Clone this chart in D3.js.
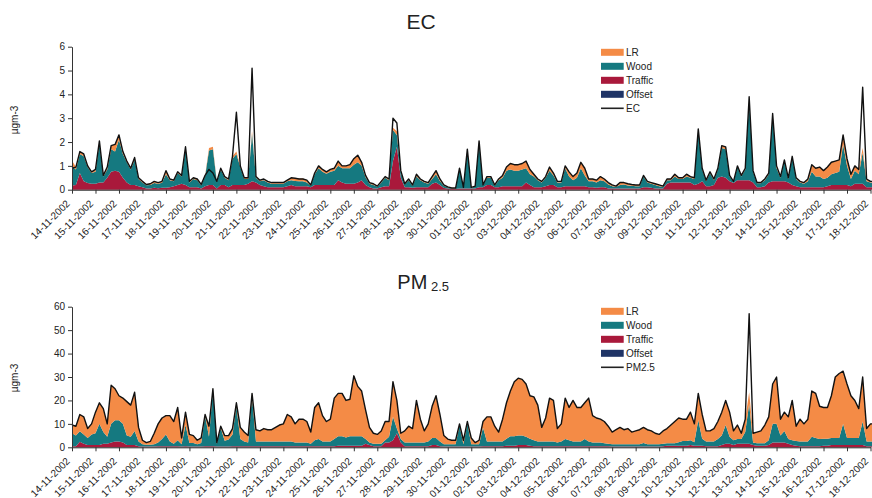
<!DOCTYPE html>
<html><head><meta charset="utf-8">
<script src="https://cdn.jsdelivr.net/npm/d3@7"></script>
<style>
body{margin:0;background:#fff}
svg{display:block;font-family:"Liberation Sans",Arial,sans-serif}
</style>
</head><body>
<svg id="chart" width="872" height="498"></svg>
<script>
// ---- time axis: samples every 4 hours starting 14-11-2002 00:00 ----
const startDay = [2002, 10, 14];
const stepHours = 4;
const tickLabels = ["14-11-2002","15-11-2002","16-11-2002","17-11-2002","18-11-2002","19-11-2002","20-11-2002",
"21-11-2002","22-11-2002","23-11-2002","24-11-2002","25-11-2002","26-11-2002","27-11-2002","28-11-2002",
"29-11-2002","30-11-2002","01-12-2002","02-12-2002","03-12-2002","04-12-2002","05-12-2002","06-12-2002",
"07-12-2002","08-12-2002","09-12-2002","10-12-2002","11-12-2002","12-12-2002","13-12-2002","14-12-2002",
"15-12-2002","16-12-2002","17-12-2002","18-12-2002"];
const seriesNames = ["Offset","Traffic","Wood","LR"];

// ---- EC panel (µgm-3), six values per day ----
const ecMeasured = [
0.9,0.95,1.6,1.5,1.0,0.75, 0.85,2.05,0.6,0.95,1.85,1.9, 2.3,1.6,1.2,0.9,1.35,0.5, 0.35,0.22,0.25,0.35,0.3,0.35,
0.8,0.45,0.4,0.75,0.6,1.8, 0.35,0.5,0.45,0.22,0.6,0.85, 0.7,0.35,0.9,0.55,0.45,1.4, 3.25,1.0,0.5,0.5,5.1,0.55,
0.4,0.45,0.35,0.3,0.3,0.3, 0.3,0.4,0.5,0.48,0.45,0.45, 0.4,0.2,0.7,1.0,0.85,0.75, 0.85,0.9,1.2,1.0,1.0,1.05,
1.3,1.45,1.15,0.6,0.3,0.25, 0.15,0.35,0.55,0.45,3.0,2.8, 0.8,0.25,0.45,0.2,0.65,0.45, 0.35,0.3,0.55,0.8,0.45,0.2,
0.12,0.07,0.07,0.9,0.1,1.7, 0.1,0.15,2.05,0.2,0.55,0.55, 0.2,0.45,0.6,0.95,1.1,1.05, 1.05,1.1,1.2,0.85,0.65,0.45,
0.35,0.55,0.95,0.7,0.35,0.35, 1.0,0.75,0.55,0.7,1.15,0.9, 0.45,0.45,0.4,0.55,0.45,0.3, 0.2,0.15,0.3,0.3,0.25,0.22,
0.2,0.2,0.6,0.35,0.3,0.25, 0.2,0.15,0.45,0.45,0.65,0.5, 0.5,0.65,0.55,0.5,2.55,0.9, 0.4,0.75,0.45,0.9,1.85,1.8,
0.6,0.35,1.0,0.6,0.9,3.9, 0.8,0.3,0.3,0.45,0.7,3.2, 1.0,0.55,1.25,0.5,1.4,0.5, 0.35,0.3,0.45,1.05,0.9,0.95,
0.8,0.95,1.15,1.2,1.25,2.3, 1.3,0.65,1.0,0.85,4.3,0.45, 0.35,0.35];
const ecTraffic = [
0.18,0.2,0.7,0.35,0.28,0.25, 0.25,0.3,0.3,0.5,0.75,0.8, 0.75,0.5,0.3,0.2,0.2,0.15, 0.1,0.05,0.05,0.08,0.06,0.08,
0.08,0.1,0.15,0.2,0.25,0.2, 0.1,0.1,0.1,0.05,0.15,0.2, 0.2,0.05,0.2,0.2,0.1,0.2, 0.2,0.2,0.2,0.25,0.35,0.3,
0.2,0.15,0.1,0.1,0.1,0.1, 0.1,0.15,0.2,0.15,0.15,0.15, 0.15,0.1,0.2,0.2,0.2,0.2, 0.2,0.2,0.4,0.3,0.25,0.25,
0.25,0.3,0.4,0.2,0.1,0.05, 0.05,0.1,0.15,0.15,1.2,1.8, 0.5,0.1,0.1,0.08,0.1,0.1, 0.1,0.1,0.25,0.3,0.2,0.07,
0.05,0.03,0.03,0.05,0.05,0.05, 0.05,0.05,0.1,0.1,0.2,0.2, 0.1,0.1,0.15,0.15,0.15,0.15, 0.15,0.15,0.3,0.2,0.1,0.1,
0.1,0.15,0.2,0.2,0.1,0.1, 0.15,0.15,0.15,0.15,0.15,0.15, 0.1,0.1,0.08,0.1,0.1,0.05, 0.05,0.05,0.05,0.05,0.05,0.05,
0.05,0.05,0.1,0.1,0.08,0.05, 0.05,0.05,0.25,0.3,0.3,0.3, 0.3,0.3,0.3,0.2,0.25,0.35, 0.15,0.15,0.2,0.5,0.55,0.5,
0.35,0.28,0.4,0.4,0.4,0.4, 0.3,0.1,0.1,0.15,0.3,0.35, 0.35,0.35,0.35,0.3,0.2,0.15, 0.1,0.1,0.1,0.1,0.1,0.1,
0.1,0.15,0.2,0.2,0.2,0.2, 0.2,0.15,0.25,0.25,0.25,0.1, 0.1,0.1];
const ecWood = [
0.8,0.65,0.8,1.05,0.67,0.45, 0.5,1.65,0.25,0.35,0.95,0.8, 1.35,1.0,0.85,0.65,1.05,0.3, 0.2,0.14,0.15,0.2,0.19,0.21,
0.57,0.3,0.2,0.5,0.3,1.5, 0.2,0.35,0.3,0.14,0.4,1.45, 1.5,0.27,0.65,0.3,0.3,1.1, 1.3,0.75,0.25,0.2,2.0,0.2,
0.15,0.25,0.2,0.15,0.15,0.15, 0.15,0.2,0.2,0.21,0.2,0.2, 0.15,0.07,0.45,0.7,0.55,0.47, 0.55,0.6,0.6,0.6,0.65,0.65,
0.8,0.85,0.6,0.32,0.15,0.15, 0.07,0.2,0.35,0.25,1.3,0.5, 0.25,0.12,0.3,0.09,0.45,0.3, 0.2,0.15,0.2,0.35,0.17,0.1,
0.05,0.02,0.02,0.83,0.03,1.6, 0.03,0.08,1.9,0.08,0.3,0.3, 0.07,0.3,0.35,0.65,0.7,0.65, 0.65,0.7,0.6,0.45,0.45,0.3,
0.2,0.35,0.6,0.4,0.2,0.2, 0.75,0.4,0.25,0.35,0.75,0.45, 0.25,0.25,0.22,0.3,0.25,0.17, 0.1,0.07,0.15,0.17,0.13,0.12,
0.1,0.1,0.45,0.2,0.17,0.15, 0.1,0.07,0.15,0.1,0.25,0.15, 0.15,0.25,0.2,0.25,2.25,0.5, 0.2,0.55,0.2,0.35,1.2,1.2,
0.2,0.05,0.55,0.15,0.45,3.4, 0.45,0.17,0.17,0.25,0.35,2.75, 0.55,0.15,0.85,0.15,1.15,0.3, 0.2,0.15,0.25,0.65,0.45,0.45,
0.35,0.35,0.45,0.5,0.55,1.7, 0.8,0.3,0.55,0.4,1.3,0.25, 0.2,0.2];
const ecLR = [
0.25,0.1,0.1,0.1,0.05,0.05, 0.1,0.1,0.05,0.1,0.15,0.3, 0.2,0.1,0.05,0.05,0.1,0.05, 0.05,0.03,0.05,0.07,0.05,0.06,
0.15,0.05,0.05,0.05,0.05,0.1, 0.05,0.05,0.05,0.03,0.05,0.1, 0.1,0.03,0.05,0.05,0.05,0.1, 0.1,0.05,0.05,0.05,0.1,0.05,
0.05,0.05,0.05,0.05,0.05,0.05, 0.05,0.05,0.1,0.12,0.12,0.12, 0.1,0.03,0.05,0.1,0.1,0.08, 0.1,0.1,0.2,0.1,0.1,0.15,
0.25,0.3,0.15,0.08,0.05,0.05, 0.03,0.05,0.05,0.05,0.1,0.15, 0.05,0.03,0.05,0.03,0.1,0.05, 0.05,0.05,0.1,0.15,0.08,0.03,
0.02,0.02,0.02,0.02,0.02,0.05, 0.02,0.02,0.05,0.02,0.05,0.05, 0.03,0.05,0.1,0.15,0.25,0.25, 0.25,0.25,0.3,0.2,0.1,0.05,
0.05,0.05,0.15,0.1,0.05,0.05, 0.1,0.2,0.15,0.2,0.25,0.3, 0.1,0.1,0.1,0.15,0.1,0.08, 0.05,0.03,0.1,0.08,0.07,0.05,
0.05,0.05,0.05,0.05,0.05,0.05, 0.05,0.03,0.05,0.05,0.1,0.05, 0.05,0.1,0.05,0.05,0.05,0.05, 0.05,0.05,0.05,0.05,0.1,0.1,
0.05,0.02,0.05,0.05,0.05,0.05, 0.05,0.03,0.03,0.05,0.05,0.1, 0.1,0.05,0.05,0.05,0.05,0.05, 0.05,0.05,0.1,0.3,0.35,0.4,
0.35,0.45,0.5,0.5,0.5,0.4, 0.3,0.2,0.2,0.2,0.2,0.1, 0.05,0.05];
const ecOffsetDaily = [0,0,0,0,0,0,0,0,0,0,0,0,0,0,0,0,0,0,0,0,0,0,0,0,0,0,0,0,0,0,0,0,0,0,0];

// ---- PM2.5 panel (µgm-3), six values per day ----
const pmMeasured = [
9.5,9,14,13,8,10, 15,19,16.5,10,26.5,25, 22,21,19.5,18,23.5,8.5, 3,2,2.5,6,10,12.5,
13.5,13.5,11,17,4,15, 5.5,5,3,4,14,9, 25,2,9,5,5,8, 19,8.5,6.5,5,23,7.5,
7,8,7.5,7.5,8.5,9.5, 10,14,13,10,12,12, 11,6.5,17,19,13.5,11, 12,21,23,23,20,20.5,
30.5,26,24,16,8.5,6, 5.5,7,11,11,28,20, 6,7,9,8,20,12, 7,10,17.5,22,14,5,
3.5,3,3,10,3,11, 4,2,3,11,13,13, 9,6.5,12,19,24,28, 29.5,29,27,22,21.5,18,
8.5,12.5,21,20,8,10, 21,17,20,17,17,19, 21,13.5,12.5,12,11,9, 6.5,7.5,8.5,7.5,8,6.5,
7,7.5,8.5,7.5,7,6, 5.5,7,8,9.5,11,12.5, 12,12,15,10,23,14, 7,7,8,11,15,20,
15,7,9.5,6,12,57, 6,6.5,7,9.5,13,27, 30,12,15,13,20,9, 12,10,12,24,23,17.5,
17,17,22,30,31.5,32.5, 27,22,20,16.5,30,8, 10,10];
const pmTraffic = [
0.5,0.5,2.4,1.5,1,1, 1,1,1.5,1.5,2,2.5, 2.5,2,1,1,1,0.5, 0.3,0.3,0.3,0.3,0.5,0.5,
0.5,0.5,0.5,0.5,0.3,0.5, 0.3,0.3,0.3,0.3,0.5,0.5, 0.5,0.3,0.3,0.3,0.3,0.5, 0.5,0.5,0.5,0.5,0.5,0.5,
0.5,0.5,0.5,0.5,0.5,0.5, 0.5,0.5,0.5,0.5,0.5,0.5, 0.5,0.5,0.5,0.5,0.5,0.5, 0.5,0.5,0.7,0.7,0.7,0.7,
0.7,0.7,0.7,1.5,1,0.5, 0.5,0.5,2,2,3,6, 2,0.5,0.5,0.5,0.5,0.5, 0.5,0.5,1,1,0.5,0.3,
0.3,0.3,0.3,0.3,0.3,0.3, 0.3,0.3,0.3,0.5,0.5,0.5, 0.5,0.5,0.5,0.7,0.7,0.7, 1,1,1,0.7,0.5,0.5,
0.5,0.5,0.5,0.5,0.5,0.5, 0.5,0.5,0.5,0.5,0.5,0.5, 0.5,0.5,0.5,0.5,0.5,0.5, 0.3,0.3,0.3,0.3,0.3,0.3,
0.3,0.3,0.3,0.3,0.3,0.3, 0.3,0.5,0.7,0.7,0.7,0.7, 0.7,0.7,1,0.7,0.7,0.7, 0.5,0.5,0.5,0.5,1,1.5,
1.5,1,1.5,1.5,1.5,1.5, 1,0.7,0.7,0.7,1,2, 2,2,2,1.5,1,0.7, 0.5,0.5,0.5,0.5,0.5,0.5,
0.7,0.7,1,1,1,1, 1,1,1,1,1,0.5, 0.5,0.5];
const pmWood = [
5.5,4.5,4.5,4,3,4.5, 5,9,5,3,8,9, 9,8,4,3.5,6,2, 1,0.8,0.8,1,1.5,3,
5,2,1,2.5,1,9, 1.5,1.5,1,1.5,13,4, 24,1.2,8,2.5,3,5, 17,3,2,1.5,21,2,
2,2,2,2,2,2, 2,2,2,1.5,1.5,1.5, 1.5,1,2.5,3,2,2, 2,3,4,4,3.5,4,
4,4,4,2,1,1, 1,1,1,2.5,10,2, 1.5,1.5,1.5,1.5,1.5,1.5, 1.5,2,3,3,2,1,
1,1,1,9,1,10, 1,1,1,8,2,2, 2,2,2,3,4,4, 4,4,3.5,3,2.5,2,
2,2,2,2,1.5,2, 3,2.5,2,2,2,3, 2,1.5,1.5,1.5,1.2,1, 1,1,1,1,1,1,
1,1,1.5,1,1,1, 1,1,1,1,1,1.5, 2,2,2,1.5,11,3, 2,2,2,3,4,8,
3,2,2,2,5,17, 1,1,1,1,2,8, 8,3,5,2,2,2, 2,2,2,4,3.5,3,
3,3,3,3,3,9, 3,3,3,3,10,2, 2,2];
const pmLR = [
3.5,4,7.1,7.5,4,4.5, 9,9,10,5.5,16.5,13.5, 10.5,11,14.5,13.5,16.5,6, 1.7,0.9,1.4,4.7,8,9,
8,11,9.5,14,2.7,5.5, 3.7,3.2,1.7,2.2,0.5,4.5, 0.5,0.5,0.7,2.2,1.7,2.5, 1.5,5,4,3,1.5,5,
4.5,5.5,5,5,6,7, 7.5,11.5,10.5,8,10,10, 9,5,14,15.5,11,8.5, 9.5,17.5,18.3,18.3,15.8,15.8,
25.8,21.3,19.3,12.5,6.5,4.5, 4,5.5,8,6.5,15,12, 2.5,5,7,6,18,10, 5,7.5,13.5,18,11.5,3.7,
2.2,1.7,1.7,0.7,1.7,0.7, 2.7,0.7,1.7,2.5,10.5,10.5, 6.5,4,9.5,15.3,19.3,23.3, 24.5,24,22.5,18.3,18.5,15.5,
6,10,18.5,17.5,6,7.5, 17.5,14,17.5,14.5,14.5,15.5, 18.5,11.5,10.5,10,9.3,7.5, 5.2,6.2,7.2,6.2,6.7,5.2,
5.7,6.2,6.7,6.2,5.7,4.7, 4.2,5.5,6.3,7.8,9.3,10.3, 9.3,9.3,12,7.8,11.3,10.3, 4.5,4.5,5.5,7.5,10,10.5,
10.5,4,6,2.5,5.5,5, 4,4.8,5.3,7.8,10,17, 20,7,8,9.5,17,6.3, 9.5,7.5,9.5,19.5,19,14,
13.3,13.3,18,26,27.5,22.5, 23,18,16,12.5,19,5.5, 7.5,7.5];
const pmOffsetDaily = [0,0,0,0,0,0,0,0,0,0,0,0,0,0,0,0,0,0,0,0,0,0,0,0,0,0,0,0,0,0,0,0,0,0,0];

const ecTicks = [0,1,2,3,4,5,6];
const pmTicks = [0,10,20,30,40,50,60];

// ---- styling ----
const colors = {Offset:"#1f3466", Traffic:"#a9193b", Wood:"#157980", LR:"#f48b46"};
const svg = d3.select("#chart");
const t0 = new Date(startDay[0], startDay[1], startDay[2]);
const tickDates = tickLabels.map((_, i) => d3.timeDay.offset(t0, i));
const x = d3.scaleTime().domain([t0, tickDates[tickDates.length-1]]).range([72, 870.5]);

function buildRows(offsetDaily, traffic, wood, lr, measured) {
  return measured.map((m, i) => ({
    date: d3.timeHour.offset(t0, i * stepHours),
    Offset: offsetDaily[Math.floor(i * stepHours / 24)],
    Traffic: traffic[i], Wood: wood[i], LR: lr[i], measured: m
  }));
}

function drawPanel(cfg) {
  const y = d3.scaleLinear().domain([0, cfg.max]).range([cfg.y0, cfg.y1]);
  const g = svg.append("g");
  const stacked = d3.stack().keys(seriesNames)(cfg.rows);
  const area = d3.area().x(d => x(d.data.date)).y0(d => y(d[0])).y1(d => y(d[1]));
  g.selectAll("path.layer").data(stacked).join("path")
    .attr("class", "layer").attr("fill", d => colors[d.key]).attr("d", area);
  const line = d3.line().x(d => x(d.date)).y(d => y(d.measured));
  g.append("path").datum(cfg.rows).attr("fill", "none").attr("stroke", "#111")
    .attr("stroke-width", 1.4).attr("stroke-linejoin", "round").attr("d", line);

  // y axis
  const ya = g.append("g").attr("transform", "translate(72,0)")
    .call(d3.axisLeft(y).tickValues(cfg.ticks).tickFormat(d3.format("d")).tickSize(4).tickSizeOuter(0).tickPadding(3));
  ya.select(".domain").attr("stroke", "#333");
  ya.selectAll(".tick line").attr("stroke", "#333");
  ya.selectAll("text").attr("font-size", "10px").attr("fill", "#222").attr("font-family", "Liberation Sans, Arial, sans-serif");

  // x axis
  const xa = g.append("g").attr("transform", `translate(0,${cfg.y0})`)
    .call(d3.axisBottom(x).tickValues(tickDates).tickFormat((d, i) => tickLabels[i]).tickSize(4).tickSizeOuter(0));
  xa.select(".domain").attr("stroke", "#222");
  xa.selectAll(".tick line").attr("stroke", "#333");
  xa.selectAll("text").attr("font-size", "10px").attr("fill", "#222")
    .attr("font-family", "Liberation Sans, Arial, sans-serif")
    .attr("x", null).attr("y", null).attr("dy", null)
    .attr("text-anchor", "end").attr("transform", "translate(-2,14.5) rotate(-45)");

  // y label
  g.append("text").attr("transform", `translate(14,${cfg.labelY}) rotate(-90)`)
    .attr("text-anchor", "middle").attr("dy", "0.35em").attr("font-size", "10px").attr("fill", "#222")
    .text("µgm-3");

  // legend
  const items = [["LR","LR"],["Wood","Wood"],["Traffic","Traffic"],["Offset","Offset"]];
  items.forEach(([k, lab], i) => {
    const cy = cfg.legY + i * 14;
    g.append("rect").attr("x", 601).attr("y", cy - 3.5).attr("width", 22.7).attr("height", 7).attr("fill", colors[k]);
    g.append("text").attr("x", 626).attr("y", cy).attr("dy", "0.35em").attr("font-size", "10px").attr("fill", "#222").text(lab);
  });
  const ly = cfg.legY + 4 * 14;
  g.append("line").attr("x1", 601).attr("x2", 623.7).attr("y1", ly).attr("y2", ly).attr("stroke", "#222").attr("stroke-width", 1.6);
  g.append("text").attr("x", 626).attr("y", ly).attr("dy", "0.35em").attr("font-size", "10px").attr("fill", "#222").text(cfg.lineName);
}

drawPanel({rows: buildRows(ecOffsetDaily, ecTraffic, ecWood, ecLR, ecMeasured), max: 6, ticks: ecTicks,
  y0: 189.7, y1: 46.7, labelY: 120, legY: 52.3, lineName: "EC"});
drawPanel({rows: buildRows(pmOffsetDaily, pmTraffic, pmWood, pmLR, pmMeasured), max: 60, ticks: pmTicks,
  y0: 447.3, y1: 306.7, labelY: 378, legY: 311.3, lineName: "PM2.5"});

// titles
svg.append("text").attr("x", 421).attr("y", 29.3).attr("text-anchor", "middle")
  .attr("font-size", "21px").attr("fill", "#222").text("EC");
const pt = svg.append("text").attr("x", 397.3).attr("y", 289.3).attr("font-size", "20px").attr("fill", "#222");
pt.append("tspan").text("PM");
pt.append("tspan").attr("font-size", "13px").attr("dy", 1.4).text(" 2.5");
</script>
</body></html>
